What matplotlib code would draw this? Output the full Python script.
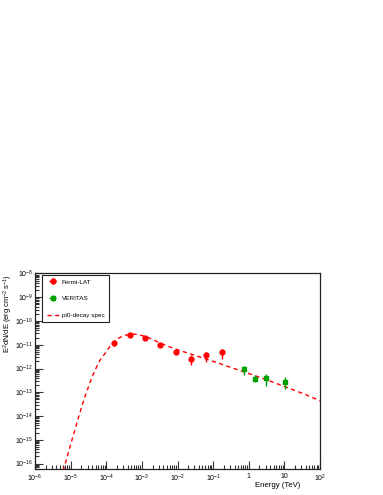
import matplotlib
matplotlib.use("Agg")
import matplotlib.pyplot as plt
import numpy as np

plt.rcParams['font.family'] = ['Liberation Sans', 'DejaVu Sans']
plt.rcParams['mathtext.fontset'] = 'custom'
plt.rcParams['mathtext.rm'] = 'Liberation Sans'
plt.rcParams['mathtext.it'] = 'Liberation Sans:italic'
plt.rcParams['mathtext.bf'] = 'Liberation Sans:bold'

# Fermi-LAT data
fermi_E = [1.6e-4, 4.5e-4, 1.2e-3, 3.3e-3, 9e-3, 2.4e-2, 6.5e-2, 0.18]
fermi_F = [1.2e-11, 2.6e-11, 1.9e-11, 1.0e-11, 4.8e-12, 2.6e-12, 3.8e-12, 4.8e-12]
fermi_lo = [8.7e-12, 2.3e-11, 1.7e-11, 8.3e-12, 4.2e-12, 1.4e-12, 1.95e-12, 2.5e-12]
fermi_hi = [1.65e-11, 2.9e-11, 2.1e-11, 1.2e-11, 5.5e-12, 3.8e-12, 4.8e-12, 6.6e-12]

# VERITAS data
ver_E = [0.72, 1.48, 3.1, 10.3]
ver_F = [9.5e-13, 3.6e-13, 4.0e-13, 2.8e-13]
ver_lo = [5.3e-13, 2.6e-13, 1.8e-13, 1.37e-13]
ver_hi = [1.28e-12, 5.2e-13, 5.9e-13, 4.4e-13]

# pi0-decay model curve (log10 E, log10 E^2 dN/dE)
model_logE = [-5.22, -5.16, -5.09, -5.02, -4.95, -4.88, -4.81, -4.74, -4.67, -4.60,
              -4.52, -4.45, -4.38, -4.31, -4.24, -4.17, -4.10, -4.03, -3.97, -3.90,
              -3.80, -3.72, -3.65, -3.57, -3.50, -3.38, -3.27, -3.16, -3.05, -2.85,
              -2.60, -2.35, -2.12, -1.65, -1.18, -0.70, -0.24, 0.23, 0.69, 1.20,
              1.60, 2.00]
model_logF = [-16.30, -16.06, -15.68, -15.30, -14.94, -14.59, -14.22, -13.86, -13.52, -13.19,
              -12.86, -12.56, -12.30, -12.06, -11.84, -11.64, -11.49, -11.36, -11.22, -11.08,
              -10.91, -10.80, -10.72, -10.66, -10.62, -10.57, -10.55, -10.56, -10.59, -10.68,
              -10.85, -11.01, -11.15, -11.38, -11.61, -11.85, -12.09, -12.33, -12.58, -12.87,
              -13.10, -13.36]

x_ticks = [1e-6, 1e-5, 1e-4, 1e-3, 1e-2, 1e-1, 1, 10, 100]
x_ticklabels = ['$10^{-6}$', '$10^{-5}$', '$10^{-4}$', '$10^{-3}$', '$10^{-2}$',
                '$10^{-1}$', '1', '10', '$10^{2}$']
y_ticks = [1e-16, 1e-15, 1e-14, 1e-13, 1e-12, 1e-11, 1e-10, 1e-9, 1e-8]
y_ticklabels = ['$10^{-16}$', '$10^{-15}$', '$10^{-14}$', '$10^{-13}$', '$10^{-12}$',
                '$10^{-11}$', '$10^{-10}$', '$10^{-9}$', '$10^{-8}$']

fig = plt.figure(figsize=(3.83, 4.95), dpi=100)
ax = fig.add_axes([35/383, 1-469/495, 285/383, 196/495])

ax.set_xscale('log')
ax.set_yscale('log')
ax.set_xlim(1e-6, 1e2)
ax.set_ylim(10**-16.23, 10**-7.98)

line_model, = ax.plot(10**np.array(model_logE), 10**np.array(model_logF), color='#ff0000',
                      lw=1.0, linestyle=(0, (3, 2.5)), label='pi0-decay spec', zorder=2)

fE = np.array(fermi_E); fF = np.array(fermi_F)
f_err = [fF - np.array(fermi_lo), np.array(fermi_hi) - fF]
eb1 = ax.errorbar(fE, fF, yerr=f_err, xerr=np.zeros_like(fE), fmt='o', color='#ff0000',
                  ms=3.5, elinewidth=1.0, capsize=0, label='Fermi-LAT', zorder=3)
vE = np.array(ver_E); vF = np.array(ver_F)
v_err = [vF - np.array(ver_lo), np.array(ver_hi) - vF]
eb2 = ax.errorbar(vE, vF, yerr=v_err, xerr=np.zeros_like(vE), fmt='s', color='#00a000',
                  ms=3.2, elinewidth=1.0, capsize=0, label='VERITAS', zorder=3)

ax.set_xticks(x_ticks)
ax.set_xticklabels(x_ticklabels)
ax.set_yticks(y_ticks)
ax.set_yticklabels(y_ticklabels)
ax.xaxis.set_minor_locator(matplotlib.ticker.LogLocator(base=10, subs=np.arange(2, 10)))
ax.yaxis.set_minor_locator(matplotlib.ticker.LogLocator(base=10, subs=np.arange(2, 10), numticks=20))
ax.xaxis.set_minor_formatter(matplotlib.ticker.NullFormatter())
ax.yaxis.set_minor_formatter(matplotlib.ticker.NullFormatter())
ax.tick_params(which='both', direction='in', top=False, right=False, labelsize=5.0,
               width=0.8, color='#333333')
ax.tick_params(which='major', length=6)
ax.tick_params(which='minor', length=3)
ax.tick_params(axis='x', pad=3)
ax.tick_params(axis='y', pad=1.5)
for sp in ax.spines.values():
    sp.set_linewidth(0.9)
    sp.set_color('#222222')

ax.text(0.93, -0.085, 'Energy (TeV)', transform=ax.transAxes, ha='right', va='center',
        fontsize=5.6)
ax.text(-0.093, 0.995, 'E$^{2}$dN/dE (erg cm$^{-2}$ s$^{-1}$)', transform=ax.transAxes,
        rotation=90, ha='center', va='top', fontsize=5.4)

leg = ax.legend(handles=[eb1, eb2, line_model], loc='upper left',
                bbox_to_anchor=(0.025, 0.992), fontsize=4.6, frameon=True,
                fancybox=False, edgecolor='#222222', framealpha=1, borderpad=0.7,
                labelspacing=1.75, handlelength=1.9, handletextpad=0.45, borderaxespad=0)
leg.get_frame().set_linewidth(0.8)

fig.savefig('out.png', dpi=100)
